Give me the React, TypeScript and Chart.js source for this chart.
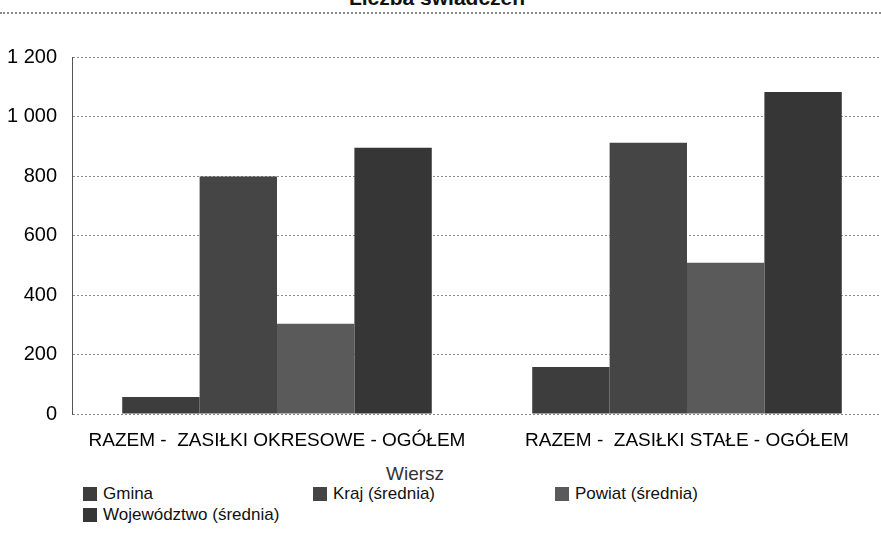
import React, { useEffect, useRef } from "react";
import { Chart, registerables } from "chart.js";

Chart.register(...registerables);

const categories = ["RAZEM -  ZASIŁKI OKRESOWE - OGÓŁEM", "RAZEM -  ZASIŁKI STAŁE - OGÓŁEM"];
const seriesNames = ["Gmina", "Kraj (średnia)", "Powiat (średnia)", "Województwo (średnia)"];
const gminaValues = [57, 158];
const krajValues = [798, 912];
const powiatValues = [303, 508];
const wojewodztwoValues = [895, 1082];
const yTicks = [0, 200, 400, 600, 800, 1000, 1200];
const chartTitle = "Liczba świadczeń";
const xAxisTitle = "Wiersz";

const seriesColors = ["#3d3d3d", "#454545", "#5a5a5a", "#363636"];
const FONT = "'Liberation Sans', Arial, sans-serif";

function formatTick(v: number): string {
  const s = String(v);
  return s.length > 3 ? s.slice(0, s.length - 3) + " " + s.slice(s.length - 3) : s;
}

export default function App() {
  const ref = useRef<HTMLCanvasElement | null>(null);

  useEffect(() => {
    if (!ref.current) return;
    const values = [gminaValues, krajValues, powiatValues, wojewodztwoValues];
    const chart = new Chart(ref.current, {
      type: "bar",
      data: {
        labels: categories,
        datasets: seriesNames.map((name, i) => ({
          label: name,
          data: values[i],
          backgroundColor: seriesColors[i],
          borderWidth: 0,
          categoryPercentage: 0.755,
          barPercentage: 1.0,
        })),
      },
      options: {
        animation: false,
        responsive: false,
        layout: { padding: { left: 0, right: 8, top: 57, bottom: 6 } },
        plugins: {
          legend: { display: false },
          tooltip: { enabled: false },
          title: { display: false },
        },
        scales: {
          x: {
            grid: { display: false, drawTicks: false },
            border: { display: false },
            ticks: {
              color: "#000",
              font: { family: FONT, size: 19 },
              padding: 15,
              maxRotation: 0,
              autoSkip: false,
            },
            title: { display: false },
            afterFit: (s: any) => {
              s.height = 40;
            },
          },
          y: {
            min: 0,
            max: 1200,
            afterBuildTicks: (s: any) => {
              s.ticks = yTicks.map((v) => ({ value: v }));
            },
            grid: {
              color: "#8a8a8a",
              lineWidth: 1,
              drawTicks: false,
            },
            border: { display: true, color: "#555", dash: [2, 2], width: 1 },
            ticks: {
              color: "#000",
              font: { family: FONT, size: 20 },
              padding: 15,
              callback: (v: any) => formatTick(Number(v)),
            },
            afterFit: (s: any) => {
              s.width = 72;
            },
          },
        },
      },
      plugins: [
        {
          id: "dashGrid",
          beforeDraw: (c: any) => {
            c.scales.y.options.grid.borderDash = [2, 2];
          },
        },
      ],
    } as any);
    return () => chart.destroy();
  }, []);

  const legendItem = (i: number, left: number, top: number) => (
    <div
      key={i}
      style={{
        position: "absolute",
        left,
        top,
        display: "flex",
        alignItems: "center",
        fontFamily: FONT,
        fontSize: 17,
        color: "#111",
        whiteSpace: "nowrap",
      }}
    >
      <span
        style={{
          display: "inline-block",
          width: 14,
          height: 14,
          background: seriesColors[i],
          marginRight: 6,
        }}
      />
      {seriesNames[i]}
    </div>
  );

  return (
    <div
      style={{
        position: "absolute",
        left: 0,
        top: 0,
        width: 881,
        height: 558,
        overflow: "hidden",
        background: "#fff",
      }}
    >
      <div
        style={{
          position: "absolute",
          left: 0,
          top: -13,
          width: 874,
          textAlign: "center",
          fontFamily: FONT,
          fontWeight: "bold",
          fontSize: 21,
          lineHeight: "21px",
          color: "#111",
        }}
      >
        {chartTitle}
      </div>
      <canvas
        ref={ref}
        width={900}
        height={460}
        style={{ position: "absolute", left: 0, top: 0, width: 900, height: 460 }}
      />
      <div
        style={{
          position: "absolute",
          left: 0,
          top: 12,
          width: 881,
          borderTop: "2px dotted #8a8a8a",
        }}
      />
      <div
        style={{
          position: "absolute",
          left: 386,
          top: 463,
          fontFamily: FONT,
          fontSize: 19,
          lineHeight: "22px",
          color: "#333",
          whiteSpace: "nowrap",
        }}
      >
        {xAxisTitle}
      </div>
      {legendItem(0, 83, 484)}
      {legendItem(1, 313, 484)}
      {legendItem(2, 555, 484)}
      {legendItem(3, 83, 505)}
    </div>
  );
}
